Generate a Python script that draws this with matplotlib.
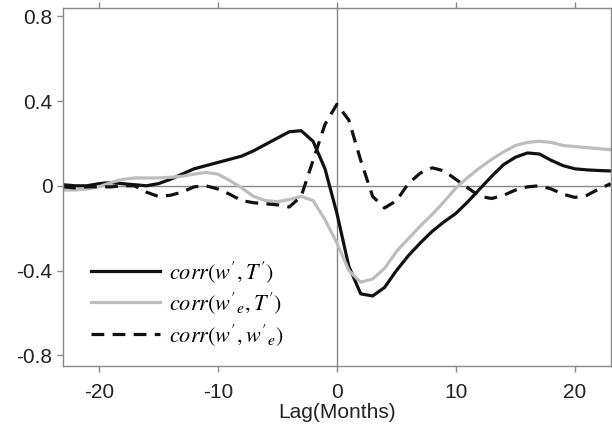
import matplotlib.pyplot as plt
import numpy as np

plt.rcParams['font.family'] = ['Liberation Sans', 'DejaVu Sans']
plt.rcParams['mathtext.fontset'] = 'stix'
plt.rcParams['axes.unicode_minus'] = False

# lag in months
lag = np.arange(-23, 24)

# corr(w', T')
corr_wT = [0.005, 0.0, 0.0, 0.01, 0.015, 0.01, 0.005, 0.0, 0.01, 0.03,
           0.055, 0.08, 0.095, 0.11, 0.125, 0.14, 0.165, 0.195, 0.225, 0.255,
           0.26, 0.21, 0.08, -0.13, -0.38, -0.51, -0.52, -0.48, -0.40, -0.33,
           -0.27, -0.215, -0.17, -0.13, -0.075, -0.015, 0.045, 0.10, 0.135, 0.155,
           0.15, 0.12, 0.095, 0.08, 0.075, 0.072, 0.07]

# corr(w'_e, T')
corr_weT = [-0.02, -0.02, -0.015, -0.005, 0.015, 0.03, 0.037, 0.037, 0.037, 0.04,
            0.045, 0.055, 0.063, 0.055, 0.025, -0.01, -0.05, -0.07, -0.075, -0.065,
            -0.05, -0.07, -0.16, -0.27, -0.40, -0.455, -0.44, -0.39, -0.31, -0.25,
            -0.19, -0.135, -0.075, -0.01, 0.04, 0.085, 0.125, 0.16, 0.19, 0.205,
            0.21, 0.205, 0.19, 0.185, 0.18, 0.175, 0.17]

# corr(w', w'_e)
corr_wwe = [-0.005, -0.01, -0.005, -0.005, -0.005, 0.0, 0.0, -0.03, -0.05, -0.045,
            -0.03, -0.005, 0.0, -0.015, -0.04, -0.07, -0.08, -0.085, -0.09, -0.1,
            -0.05, 0.12, 0.29, 0.385, 0.31, 0.12, -0.05, -0.105, -0.07, 0.01,
            0.06, 0.085, 0.07, 0.03, -0.01, -0.05, -0.06, -0.045, -0.02, -0.005,
            0.0, -0.015, -0.04, -0.055, -0.045, -0.015, 0.01]

fig = plt.figure(figsize=(6.12, 4.33), dpi=100)
ax = fig.add_axes([0.103, 0.155, 0.895, 0.827])

ax.axhline(0, color='#888888', lw=1.0, zorder=1)
ax.axvline(0, color='#888888', lw=1.0, zorder=1)

ax.plot(lag, corr_wT, color='#111111', lw=2.3, label=r"$corr(w',T')$")
ax.plot(lag, corr_weT, color='#bdbdbd', lw=2.3, label=r"$corr(w'_e,T')$")
ax.plot(lag, corr_wwe, color='#111111', lw=2.3, ls=(0, (4, 2.6)), label=r"$corr(w',w'_e)$")

ax.set_xlim(-23, 23)
ax.set_ylim(-0.85, 0.84)
ax.set_xticks([-20, -10, 0, 10, 20])
ax.set_yticks([-0.8, -0.4, 0, 0.4, 0.8])
ax.set_yticklabels(['-0.8', '-0.4', '0', '0.4', '0.8'])
ax.tick_params(direction='out', length=4, width=1, color='#888888',
               labelsize=15, labelcolor='#222222', top=True, right=True)
ax.tick_params(axis='x', pad=8)
for s in ax.spines.values():
    s.set_color('#888888')
    s.set_linewidth(1.0)

ax.set_xlabel('Lag(Months)', fontsize=15, color='#222222', labelpad=1)

ax.legend(loc='lower left', bbox_to_anchor=(0.015, -0.005), frameon=False,
          fontsize=16, handlelength=3.1, handletextpad=0.4, labelspacing=0.25)

fig.savefig('out.png', dpi=100, facecolor='white')
